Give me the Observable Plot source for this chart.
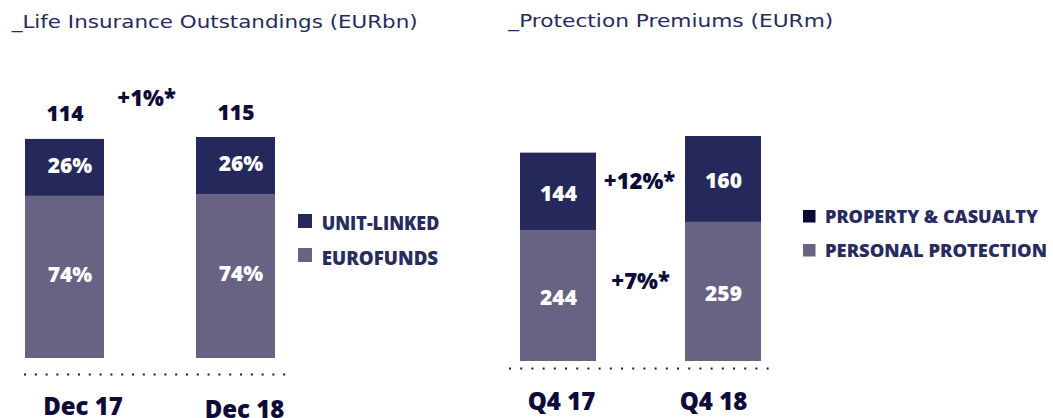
<!DOCTYPE html>
<html><head><meta charset="utf-8">
<script src="https://cdn.jsdelivr.net/npm/d3@7"></script>
<script src="https://cdn.jsdelivr.net/npm/@observablehq/plot@0.6"></script>
<style>
html,body{margin:0;padding:0;background:#fff;}
#wrap{position:relative;width:1053px;height:418px;overflow:hidden;}
#wrap > svg{position:absolute;top:0;}
</style></head><body><div id="wrap"></div>
<script>
// ---- data: left panel ----
const leftTitle = "_Life Insurance Outstandings (EURbn)";
const leftCategories = ["Dec 17", "Dec 18"];
const leftTotals = [114, 115];
const unitLinkedShare = [26, 26];
const eurofundsShare = [74, 74];
const leftGrowth = ["+1%*"];
const leftSeries = ["UNIT-LINKED", "EUROFUNDS"];

// ---- data: right panel ----
const rightTitle = "_Protection Premiums (EURm)";
const rightCategories = ["Q4 17", "Q4 18"];
const propertyCasualty = [144, 160];
const personalProtection = [244, 259];
const rightGrowth = ["+12%*", "+7%*"];
const rightSeries = ["PROPERTY & CASUALTY", "PERSONAL PROTECTION"];

const DARK = "#24285b", LIGHT = "#686283", INK = "#0c0b3a", NAVY = "#282b5d", PCSQ = "#0a0837";
const FONT = "'Open Sans', sans-serif";

const leftRows = [];
leftCategories.forEach((c, i) => {
  const ef = leftTotals[i] * eurofundsShare[i] / 100;
  const ul = leftTotals[i] * unitLinkedShare[i] / 100;
  leftRows.push({cat: c, series: leftSeries[1], y1: 0, y2: ef, label: eurofundsShare[i] + "%"});
  leftRows.push({cat: c, series: leftSeries[0], y1: ef, y2: ef + ul, label: unitLinkedShare[i] + "%"});
});
const leftTotalRows = leftCategories.map((c, i) => ({cat: c, total: leftTotals[i]}));

const rightRows = [];
rightCategories.forEach((c, i) => {
  const pp = personalProtection[i], pc = propertyCasualty[i];
  rightRows.push({cat: c, series: rightSeries[1], y1: 0, y2: pp, label: String(pp)});
  rightRows.push({cat: c, series: rightSeries[0], y1: pp, y2: pp + pc, label: String(pc)});
});
const rightMax = d3.max(rightCategories.map((c, i) => propertyCasualty[i] + personalProtection[i]));

const wrap = document.getElementById("wrap");
const common = {fontWeight: 800, fontFamily: FONT};

const left = Plot.plot({
  width: 500, height: 418,
  marginLeft: 24, marginRight: 207, marginTop: 0, marginBottom: 0,
  style: {background: "transparent", fontFamily: FONT, overflow: "visible"},
  x: {domain: leftCategories, range: [24, 275], paddingInner: 0.54, paddingOuter: 0, axis: null},
  y: {domain: [0, d3.max(leftTotals)], range: [358, 137], axis: null},
  color: {domain: leftSeries, range: [DARK, LIGHT]},
  marks: [
    Plot.barY(leftRows, {x: "cat", y1: "y1", y2: "y2", fill: "series"}),
    Plot.text(leftRows, {x: "cat", y: d => (d.y1 + d.y2) / 2, text: "label", fill: "white", fontSize: 21, dx: 5, dy: -2, ...common}),
    Plot.text(leftTotalRows, {x: "cat", y: "total", text: d => String(d.total), lineAnchor: "bottom", dy: -18, fill: INK, fontSize: 21, ...common}),
    Plot.text(leftGrowth, {x: () => leftCategories[0], y: () => leftTotals[0], text: d => d, lineAnchor: "bottom", dx: 81.5, dy: -33, fill: INK, fontSize: 22, ...common}),
    Plot.ruleY([0], {dy: 16, stroke: "#1a1a38", strokeWidth: 2, strokeDasharray: "2 8.8"}),
    Plot.text([leftCategories[0]], {x: d => d, y: () => 0, text: d => d, lineAnchor: "bottom", dx: 18, dy: 56, fill: INK, fontSize: 24, ...common}),
    Plot.text([leftCategories[1]], {x: d => d, y: () => 0, text: d => d, lineAnchor: "bottom", dx: 8.5, dy: 59, fill: INK, fontSize: 24, ...common})
  ]
});
left.style.left = "0px";
wrap.appendChild(left);

const right = Plot.plot({
  width: 553, height: 418,
  marginLeft: 9, marginRight: 276, marginTop: 0, marginBottom: 0,
  style: {background: "transparent", fontFamily: FONT, overflow: "visible"},
  x: {domain: rightCategories, range: [20, 262.3], paddingInner: 0.537, paddingOuter: 0, axis: null},
  y: {domain: [0, rightMax], range: [361, 136], axis: null},
  color: {domain: rightSeries, range: [DARK, LIGHT]},
  marks: [
    Plot.barY(rightRows, {x: "cat", y1: "y1", y2: "y2", fill: "series"}),
    Plot.text(rightRows, {x: "cat", y: d => (d.y1 + d.y2) / 2, text: "label", fill: "white", fontSize: 21, dy: 2, ...common}),
    Plot.text([rightGrowth[0]], {x: () => rightCategories[0], y: () => personalProtection[0] + propertyCasualty[0] / 2, text: d => d, dx: 81, dy: -10, fill: INK, fontSize: 22, ...common}),
    Plot.text([rightGrowth[1]], {x: () => rightCategories[0], y: () => personalProtection[0] / 2, text: d => d, dx: 82, dy: -14, fill: INK, fontSize: 22, ...common}),
    Plot.ruleY([0], {dy: 7, stroke: "#1a1a38", strokeWidth: 2, strokeDasharray: "2 9.2"}),
    Plot.text([rightCategories[0]], {x: d => d, y: () => 0, text: d => d, lineAnchor: "bottom", dx: 3, dy: 48, fill: INK, fontSize: 24, ...common}),
    Plot.text([rightCategories[1]], {x: d => d, y: () => 0, text: d => d, lineAnchor: "bottom", dx: -10, dy: 48, fill: INK, fontSize: 24, ...common})
  ]
});
right.style.left = "500px";
wrap.appendChild(right);

// titles and legends
const svg = d3.select(wrap).append("svg").attr("width", 1053).attr("height", 418).style("left", "0px").style("pointer-events", "none");
function title(txt, x, y, len) {
  svg.append("text").attr("x", x).attr("y", y).attr("textLength", len).attr("lengthAdjust", "spacingAndGlyphs")
    .attr("font-family", "'DejaVu Sans', sans-serif").attr("font-size", 18.5).attr("fill", "#262a5c").text(txt);
}
title(leftTitle, 11.7, 28, 406);
title(rightTitle, 508.3, 27, 325);

function legendItem(label, color, sx, sy, size, tx, ty, fs, len) {
  svg.append("rect").attr("x", sx).attr("y", sy).attr("width", size).attr("height", size).attr("fill", color);
  svg.append("text").attr("x", tx).attr("y", ty).attr("textLength", len).attr("lengthAdjust", "spacingAndGlyphs")
    .attr("font-family", FONT).attr("font-weight", 800).attr("font-size", fs).attr("fill", NAVY).text(label);
}
legendItem(leftSeries[0], DARK, 298, 214, 14, 321.7, 230, 18.5, 117.6);
legendItem(leftSeries[1], LIGHT, 298, 248, 14, 321.7, 265, 18.5, 116.5);
legendItem(rightSeries[0], PCSQ, 803, 210, 12.5, 825, 222.5, 17.5, 213);
legendItem(rightSeries[1], LIGHT, 803, 244, 12.5, 825, 256.5, 17.5, 222);
</script></body></html>
